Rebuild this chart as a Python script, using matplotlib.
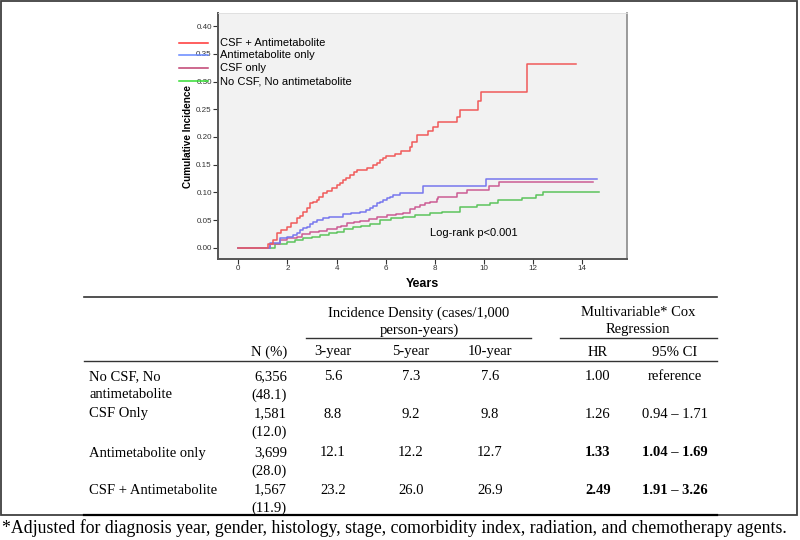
import matplotlib
matplotlib.use("Agg")
import matplotlib.pyplot as plt
from matplotlib.lines import Line2D
from matplotlib.patches import Rectangle

# ---------------- data ----------------
groups = ["CSF + Antimetabolite", "Antimetabolite only", "CSF only", "No CSF, No antimetabolite"]

red_t = [0, 1.0, 1.2, 1.4, 1.56, 1.75, 1.97, 2.15, 2.37, 2.5, 2.65, 2.8, 2.92, 3.05, 3.19, 3.3, 3.46,
         3.6, 3.8, 4.0, 4.15, 4.27, 4.4, 4.55, 4.7, 4.82, 5.0, 5.22, 5.5, 5.65, 5.77, 5.9, 6.01, 6.38,
         6.61, 6.99, 7.06, 7.26, 7.71, 7.94, 8.14, 8.89, 9.02, 9.74, 9.88, 11.74, 13.75]
red_y = [0, 0, 0.006, 0.014, 0.026, 0.032, 0.038, 0.045, 0.053, 0.058, 0.065, 0.072, 0.080, 0.083,
         0.086, 0.092, 0.098, 0.103, 0.108, 0.113, 0.117, 0.122, 0.126, 0.131, 0.136, 0.140, 0.141,
         0.143, 0.149, 0.153, 0.158, 0.162, 0.1655, 0.170, 0.175, 0.182, 0.191, 0.203, 0.211, 0.218,
         0.227, 0.2365, 0.2486, 0.265, 0.2805, 0.332, 0.332]

blue_t = [0, 1.0, 1.3, 1.7, 2.0, 2.24, 2.4, 2.51, 2.65, 2.78, 2.9, 3.05, 3.2, 3.46, 3.7, 4.0, 4.27,
          4.6, 4.95, 5.2, 5.36, 5.5, 5.63, 5.77, 5.9, 6.05, 6.17, 6.31, 6.58, 7.53, 10.08, 14.61]
blue_y = [0, 0, 0.008, 0.017, 0.020, 0.023, 0.027, 0.032, 0.035, 0.038, 0.043, 0.047, 0.050, 0.053,
          0.055, 0.056, 0.061, 0.063, 0.065, 0.068, 0.071, 0.075, 0.080, 0.083, 0.086, 0.089, 0.092,
          0.095, 0.099, 0.111, 0.124, 0.124]

mag_t = [0, 1.0, 1.3, 1.7, 2.0, 2.37, 2.6, 2.92, 3.3, 3.6, 4.0, 4.2, 4.41, 4.7, 4.95, 5.3, 5.63,
         6.04, 6.4, 6.72, 6.99, 7.2, 7.40, 7.6, 7.80, 8.07, 8.14, 8.89, 9.32, 10.22, 10.61, 14.45]
mag_y = [0, 0, 0.007, 0.014, 0.017, 0.020, 0.025, 0.029, 0.031, 0.033, 0.037, 0.040, 0.044, 0.046,
         0.048, 0.052, 0.056, 0.059, 0.061, 0.063, 0.069, 0.073, 0.077, 0.080, 0.083, 0.088, 0.092,
         0.0993, 0.1035, 0.111, 0.119, 0.119]

green_t = [0, 1.0, 1.5, 1.97, 2.3, 2.65, 3.0, 3.32, 3.7, 4.0, 4.3, 4.68, 5.0, 5.36, 5.77, 6.2, 6.72,
           7.2, 7.80, 8.3, 8.75, 9.02, 9.70, 10.24, 10.58, 11.53, 12.12, 12.41, 14.67]
green_y = [0, 0, 0.006, 0.011, 0.014, 0.017, 0.020, 0.023, 0.026, 0.029, 0.033, 0.037, 0.039, 0.042,
           0.050, 0.053, 0.056, 0.059, 0.062, 0.064, 0.065, 0.073, 0.077, 0.080, 0.087, 0.089, 0.095,
           0.1005, 0.1005]

x_ticks = [0, 2, 4, 6, 8, 10, 12, 14]
y_ticks = [0.00, 0.05, 0.10, 0.15, 0.20, 0.25, 0.30, 0.35, 0.40]

row_labels = [["No CSF, No", "antimetabolite"], ["CSF Only"], ["Antimetabolite only"], ["CSF + Antimetabolite"]]
n_counts = ["6,356", "1,581", "3,699", "1,567"]
n_pcts = ["(48.1)", "(12.0)", "(28.0)", "(11.9)"]
inc_3yr = ["5.6", "8.8", "12.1", "23.2"]
inc_5yr = ["7.3", "9.2", "12.2", "26.0"]
inc_10yr = ["7.6", "9.8", "12.7", "26.9"]
hr = ["1.00", "1.26", "1.33", "2.49"]
ci = ["reference", "0.94 \u2013 1.71", "1.04 \u2013 1.69", "1.91 \u2013 3.26"]
significant = [False, False, True, True]
footnote = ("*Adjusted for diagnosis year, gender, histology, stage, comorbidity index, "
            "radiation, and chemotherapy agents.")

# ---------------- figure ----------------
W, H = 800, 540
fig = plt.figure(figsize=(8, 5.4), dpi=100)

def fx(x):
    return x / W

def fy(y):
    return 1 - y / H

SANS = ["Liberation Sans", "DejaVu Sans"]
SERIF = ["Liberation Serif", "DejaVu Serif"]

# axes placement (pixels: left 218, right 627, top 13, bottom 259)
ax = fig.add_axes([fx(218), fy(259), fx(627) - fx(218), fy(13) - fy(259)])
ax.set_facecolor("#f2f2f2")
ax.set_xlim(-0.826, 15.82)
ax.set_ylim(-0.0204, 0.4237)

series = [
    (green_t, green_y, "#5cc45c"),
    (mag_t, mag_y, "#cc5c94"),
    (blue_t, blue_y, "#7777ee"),
    (red_t, red_y, "#f05a5a"),
]
for t, y, c in series:
    ax.step(t, y, where="post", color=c, lw=1.1)

ax.set_xticks(x_ticks)
ax.set_xticklabels([str(v) for v in x_ticks])
ax.set_yticks(y_ticks)
ax.set_yticklabels(["%.2f" % v for v in y_ticks])
ax.tick_params(axis="both", direction="out", length=3.5, width=0.8, color="#333333",
               labelsize=5.8, labelcolor="#333333", pad=1)
for lab in ax.get_xticklabels() + ax.get_yticklabels():
    lab.set_family(SANS)

ax.spines["left"].set_color("#555555")
ax.spines["left"].set_linewidth(1.4)
ax.spines["bottom"].set_color("#555555")
ax.spines["bottom"].set_linewidth(1.4)
ax.spines["right"].set_color("#8a8a8a")
ax.spines["right"].set_linewidth(1.2)
ax.spines["top"].set_color("#dddddd")
ax.spines["top"].set_linewidth(0.6)

ax.set_xlabel("Years", fontsize=9, fontweight="bold", family=SANS, labelpad=4)
fig.text(fx(188), fy(136.5), "Cumulative Incidence", rotation=90, ha="center", va="center",
         fontsize=7.2, fontweight="bold", family=SANS)

ax.text(7.8, 0.0265, "Log-rank p<0.001", fontsize=8, family=SANS, ha="left", va="center")

# legend (drawn outside the axes, overlapping tick labels as in the reference)
legend_colors = ["#ff3333", "#6688ff", "#c04070", "#33dd33"]
legend_y = [43, 55, 68, 81]
for g, c, yy in zip(groups, legend_colors, legend_y):
    fig.add_artist(Line2D([fx(179), fx(208)], [fy(yy), fy(yy)], color=c, lw=1.1))
    fig.text(fx(220), fy(yy), g, fontsize=8, family=SANS, ha="left", va="center")

# ---------------- frame ----------------
fig.add_artist(Rectangle((fx(0.8), fy(515)), fx(797.5) - fx(0.8), fy(0.8) - fy(515),
                         fill=False, edgecolor="#404040", lw=1.3))

# ---------------- table ----------------
TL, TR = 84, 717
FS = 10.5

def hline(x0, x1, y, lw=1.0, color="black"):
    fig.add_artist(Line2D([fx(x0), fx(x1)], [fy(y), fy(y)], color=color, lw=lw))

def ttext(x, y, s, ha="center", bold=False):
    fig.text(fx(x), fy(y), s, ha=ha, va="center", fontsize=FS, family=SERIF,
             fontweight="bold" if bold else "normal")

hline(TL, TR, 297, lw=1.2, color="#333333")
ttext(419, 313, "Incidence Density (cases/1,000")
ttext(419, 330, "person-years)")
hline(306, 531, 338, lw=1.0, color="#333333")
ttext(638, 313, "Multivariable* Cox")
ttext(638, 330, "Regression")
hline(560, TR, 338, lw=1.0, color="#333333")

header_y = 352
ttext(287, header_y, "N (%)", ha="right")
col_x = {"3": 333, "5": 411, "10": 490, "hr": 598, "ci": 675}
ttext(col_x["3"], header_y, "3-year")
ttext(col_x["5"], header_y, "5-year")
ttext(col_x["10"], header_y, "10-year")
ttext(col_x["hr"], header_y, "HR")
ttext(col_x["ci"], header_y, "95% CI")
hline(TL, TR, 361, lw=1.0, color="#333333")

row_y = [377, 414, 453, 490]
sub_dy = 18
for i, ry in enumerate(row_y):
    for j, line in enumerate(row_labels[i]):
        ttext(89, ry + j * sub_dy, line, ha="left")
    ttext(287, ry, n_counts[i], ha="right")
    ttext(287, ry + sub_dy, n_pcts[i], ha="right")
    ttext(col_x["3"], ry, inc_3yr[i])
    ttext(col_x["5"], ry, inc_5yr[i])
    ttext(col_x["10"], ry, inc_10yr[i])
    ttext(col_x["hr"], ry, hr[i], bold=significant[i])
    ttext(col_x["ci"], ry, ci[i], bold=significant[i])

hline(TL, TR, 515, lw=1.6, color="black")

fig.text(fx(2), fy(528), footnote, ha="left", va="center", fontsize=12.8, family=SERIF)

fig.savefig("out.png", dpi=100)
